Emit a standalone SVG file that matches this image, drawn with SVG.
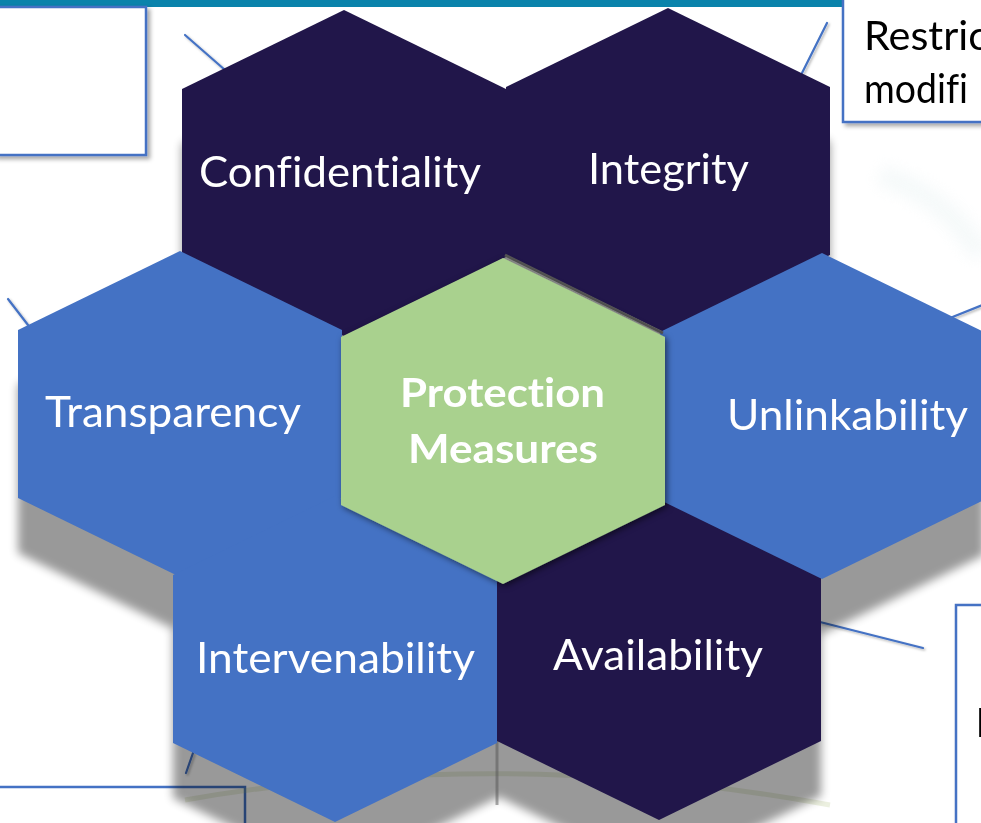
<svg xmlns="http://www.w3.org/2000/svg" width="981" height="823" viewBox="0 0 981 823">
<style>
.dark{fill:#21164A}
.blue{fill:#4472C4}
.green{fill:#A9D18E}
.lbl{font-family:Lato,"Open Sans","Noto Sans",sans-serif;fill:#FFFFFF;font-size:42px;font-variant-ligatures:none}
.bold{font-weight:700;font-size:41px}
.box{fill:#FFFFFF;stroke:#4472C4;stroke-width:2.5}
.conn line{stroke:#4472C4;stroke-width:2.2;stroke-linecap:round}
.note{font-family:Lato,"Open Sans","Noto Sans",sans-serif;fill:#000000;font-size:40px;font-variant-ligatures:none}
</style>
<defs>
<polygon id="hex" points="0,-163 162,-84 162,84 0,163 -162,84 -162,-84"/>
<filter id="blur" x="-20%" y="-20%" width="140%" height="140%"><feGaussianBlur stdDeviation="5"/></filter>
<filter id="soft" x="-50%" y="-50%" width="200%" height="200%"><feGaussianBlur stdDeviation="8"/></filter>
<filter id="boxshadow" x="-10%" y="-10%" width="130%" height="130%"><feDropShadow dx="3" dy="3" stdDeviation="2" flood-color="#000" flood-opacity="0.35"/></filter>
<filter id="hexshadow" x="-10%" y="-10%" width="120%" height="120%"><feDropShadow dx="2" dy="2" stdDeviation="3" flood-color="#000" flood-opacity="0.55"/></filter>
<filter id="lineshadow" x="-20%" y="-20%" width="140%" height="140%"><feDropShadow dx="1.5" dy="1.5" stdDeviation="1.2" flood-color="#000" flood-opacity="0.3"/></filter>
</defs>
<rect x="0" y="0" width="981" height="823" fill="#FFFFFF"/>
<path d="M 880 175 Q 945 195 981 255" fill="none" stroke="#E8F2F3" stroke-width="20" opacity="0.45" filter="url(#soft)"/>
<rect x="0" y="0" width="981" height="7" fill="#0A83AB"/>
<g id="box-bottom-left"><rect class="box" x="-5" y="787" width="250" height="60"/></g>
<g id="box-bottom-right" filter="url(#boxshadow)"><rect class="box" x="956" y="605" width="40" height="240"/><text class="note" x="975.5" y="737" font-size="42">E</text></g>
<g id="connectors" class="conn" filter="url(#lineshadow)">
<line x1="185" y1="35" x2="225" y2="70"/>
<line x1="827" y1="23" x2="802" y2="73"/>
<line x1="8" y1="299" x2="28" y2="325"/>
<line x1="950" y1="318" x2="990" y2="302"/>
<line x1="820" y1="622" x2="923" y2="648"/>
<line x1="186" y1="773" x2="193" y2="753"/>
</g>
<path d="M 185 800 Q 500 745 830 805" fill="none" stroke="#9FB463" stroke-width="5" opacity="0.2"/>
<g id="cluster-shadow" transform="translate(0,55)" opacity="0.4" filter="url(#blur)">
<use href="#hex" transform="translate(344,173)"/>
<use href="#hex" transform="translate(668,171)"/>
<use href="#hex" transform="translate(180,414)"/>
<use href="#hex" transform="translate(503,421)"/>
<use href="#hex" transform="translate(822,416)"/>
<use href="#hex" transform="translate(335,659)"/>
<use href="#hex" transform="translate(659,657)"/>
</g>
<line x1="497" y1="741" x2="497" y2="805" stroke="#555" stroke-width="3" opacity="0.5"/>
<g id="box-top-left" filter="url(#boxshadow)"><rect class="box" x="-5" y="7" width="151" height="148"/></g>
<g id="box-top-right" filter="url(#boxshadow)"><rect class="box" x="843" y="-5" width="150" height="127"/>
<text class="note" x="864" y="50" textLength="124" lengthAdjust="spacingAndGlyphs">Restric</text>
<text class="note" x="864" y="103" textLength="104" lengthAdjust="spacingAndGlyphs">modifi</text></g>
<g id="n-confidentiality"><use href="#hex" class="dark" transform="translate(344,173)"/>
<text class="lbl" x="199" y="187" textLength="282" lengthAdjust="spacingAndGlyphs">Confidentiality</text></g>
<g id="n-integrity"><use href="#hex" class="dark" transform="translate(668,171)"/>
<text class="lbl" x="588" y="184" textLength="161" lengthAdjust="spacingAndGlyphs">Integrity</text></g>
<g id="n-availability"><use href="#hex" class="dark" transform="translate(659,657)"/>
<text class="lbl" x="553" y="670" textLength="210" lengthAdjust="spacingAndGlyphs">Availability</text></g>
<g id="n-transparency"><use href="#hex" class="blue" transform="translate(180,414)"/>
<text class="lbl" x="45" y="427" textLength="256" lengthAdjust="spacingAndGlyphs">Transparency</text></g>
<g id="n-unlinkability"><use href="#hex" class="blue" transform="translate(822,416)"/>
<text class="lbl" x="727" y="430" textLength="241" lengthAdjust="spacingAndGlyphs">Unlinkability</text></g>
<g id="n-intervenability"><use href="#hex" class="blue" transform="translate(335,659)"/>
<text class="lbl" x="196" y="673" textLength="279" lengthAdjust="spacingAndGlyphs">Intervenability</text></g>
<line x1="505" y1="255" x2="663" y2="333" stroke="#555555" stroke-width="3"/>
<g id="n-protection" filter="url(#hexshadow)"><use href="#hex" class="green" transform="translate(503,421)"/>
<text class="lbl bold" x="400" y="407" textLength="205" lengthAdjust="spacingAndGlyphs">Protection</text>
<text class="lbl bold" x="408" y="463" textLength="190" lengthAdjust="spacingAndGlyphs">Measures</text></g>
</svg>
